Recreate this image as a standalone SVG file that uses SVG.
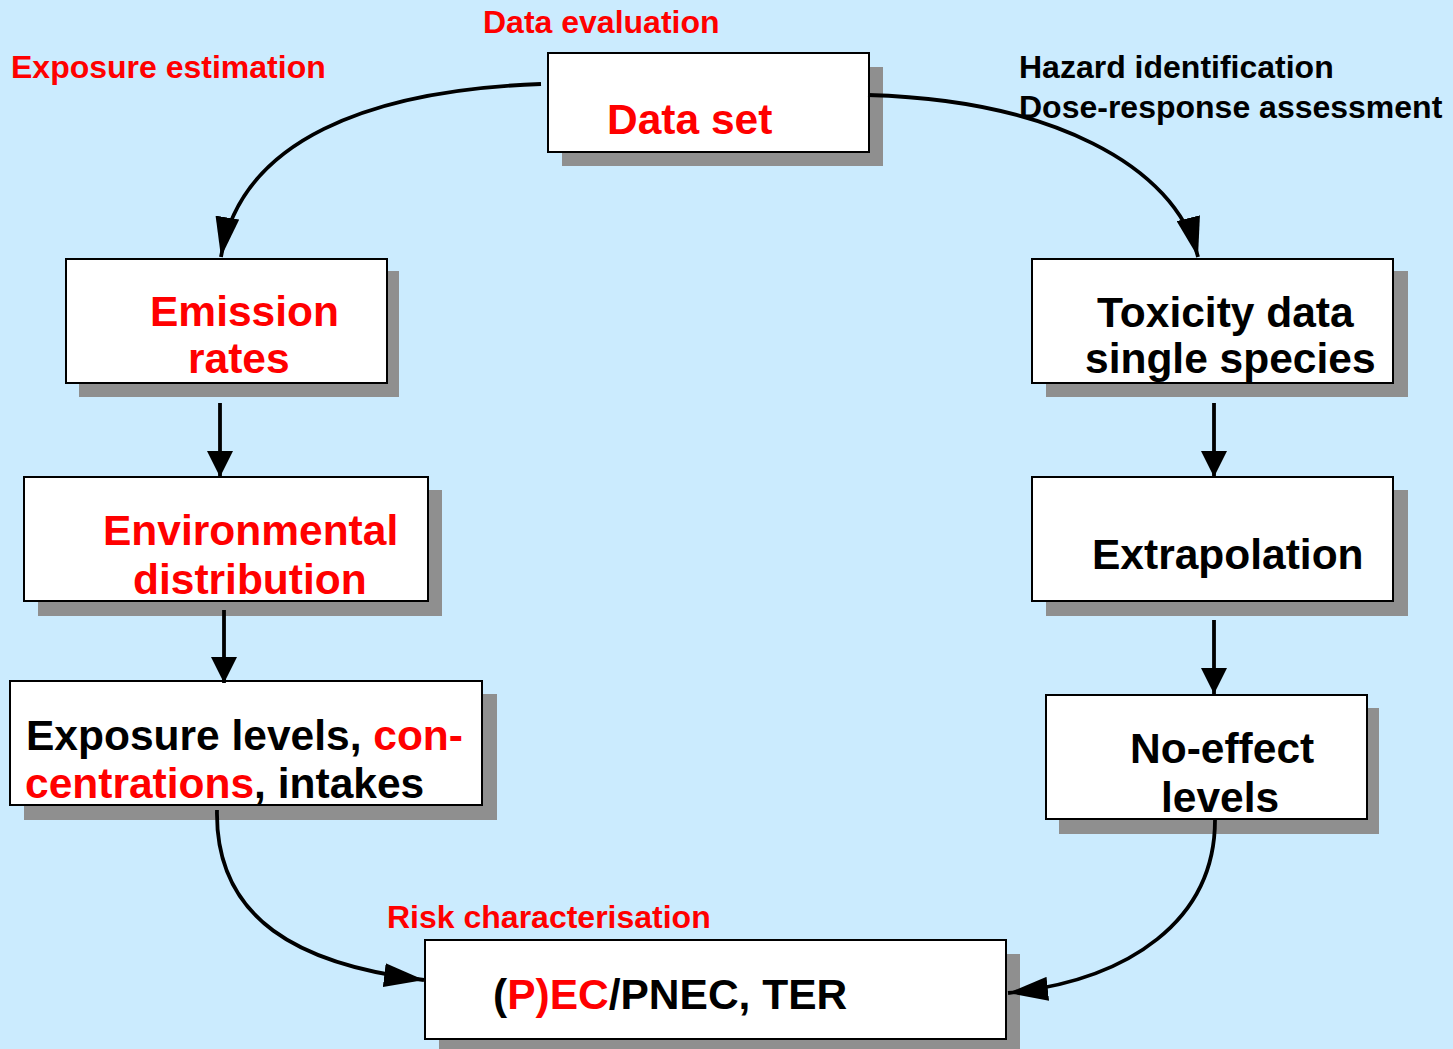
<svg xmlns="http://www.w3.org/2000/svg" width="1453" height="1049" viewBox="0 0 1453 1049">
  <defs>
    <style>
      text { font-family: "Liberation Sans", Arial, sans-serif; font-weight: bold; }
      .box { fill: #ffffff; stroke: #000000; stroke-width: 2; }
      .shadow { fill: #8f8f8f; }
      .big { font-size: 42.5px; }
      .lbl { font-size: 32px; }
      .red { fill: #ff0000; }
      .blk { fill: #000000; }
      .conn { fill: none; stroke: #000000; stroke-width: 3.8; }
    </style>
    <marker id="headLong" viewBox="0 0 40 24" refX="40" refY="12" markerWidth="40" markerHeight="24" markerUnits="userSpaceOnUse" orient="auto">
      <path d="M0,0 L40,12 L0,24 Z" fill="#000000"/>
    </marker>
    <marker id="headShort" viewBox="0 0 26 26" refX="26" refY="13" markerWidth="26" markerHeight="26" markerUnits="userSpaceOnUse" orient="auto">
      <path d="M0,0 L26,13 L0,26 Z" fill="#000000"/>
    </marker>
  </defs>

  <rect width="1453" height="1049" fill="#cbebfe"/>

  <!-- stage labels -->
  <g id="labels">
    <text class="lbl red" x="483" y="33">Data evaluation</text>
    <text class="lbl red" x="11" y="78">Exposure estimation</text>
    <text class="lbl blk" x="1019" y="78">Hazard identification</text>
    <text class="lbl blk" x="1019" y="118">Dose-response assessment</text>
    <text class="lbl red" x="387" y="928">Risk characterisation</text>
  </g>

  <g id="data-set">
    <rect class="shadow" x="562" y="67" width="321" height="99"/>
    <rect class="box" x="548" y="53" width="321" height="99"/>
    <text class="big red" x="607" y="134">Data set</text>
  </g>

  <g id="emission-rates">
    <rect class="shadow" x="79" y="271" width="320" height="126"/>
    <rect class="box" x="66" y="259" width="321" height="124"/>
    <text class="big red" x="150" y="326">Emission</text>
    <text class="big red" x="188" y="373">rates</text>
  </g>

  <g id="toxicity-data">
    <rect class="shadow" x="1046" y="271" width="362" height="126"/>
    <rect class="box" x="1032" y="259" width="361" height="124"/>
    <text class="big blk" x="1097" y="327">Toxicity data</text>
    <text class="big blk" x="1085" y="373">single species</text>
  </g>

  <g id="environmental-distribution">
    <rect class="shadow" x="38" y="490" width="404" height="126"/>
    <rect class="box" x="24" y="477" width="404" height="124"/>
    <text class="big red" x="103" y="545">Environmental</text>
    <text class="big red" x="133" y="594">distribution</text>
  </g>

  <g id="extrapolation">
    <rect class="shadow" x="1046" y="490" width="362" height="126"/>
    <rect class="box" x="1032" y="477" width="361" height="124"/>
    <text class="big blk" x="1092" y="569">Extrapolation</text>
  </g>

  <g id="exposure-levels">
    <rect class="shadow" x="24" y="694" width="473" height="126"/>
    <rect class="box" x="10" y="681" width="472" height="124"/>
    <text class="big blk" x="26" y="750">Exposure levels, <tspan class="red">con-</tspan></text>
    <text class="big blk" x="25" y="798"><tspan class="red">centrations</tspan>, intakes</text>
  </g>

  <g id="no-effect-levels">
    <rect class="shadow" x="1059" y="708" width="320" height="126"/>
    <rect class="box" x="1046" y="695" width="321" height="124"/>
    <text class="big blk" x="1130" y="763">No-effect</text>
    <text class="big blk" x="1161" y="812">levels</text>
  </g>

  <g id="risk-ratio">
    <rect class="shadow" x="439" y="954" width="581" height="100"/>
    <rect class="box" x="425" y="940" width="581" height="99"/>
    <text class="big blk" x="493" y="1009">(<tspan class="red">P)EC</tspan>/PNEC, TER</text>
  </g>

  <!-- connectors -->
  <g id="connectors">
    <path class="conn" d="M541,84 C370,90 240,140 221,257" marker-end="url(#headLong)"/>
    <path class="conn" d="M868,95 C1050,100 1175,165 1198,257" marker-end="url(#headLong)"/>
    <path class="conn" d="M220,403 L220,477" marker-end="url(#headShort)"/>
    <path class="conn" d="M224,610 L224,683" marker-end="url(#headShort)"/>
    <path class="conn" d="M1214,403 L1214,477" marker-end="url(#headShort)"/>
    <path class="conn" d="M1214,620 L1214,694" marker-end="url(#headShort)"/>
    <path class="conn" d="M217,810 C215,920 300,965 424,980" marker-end="url(#headLong)"/>
    <path class="conn" d="M1215,820 C1215,920 1130,980 1008,993" marker-end="url(#headLong)"/>
  </g>
</svg>
